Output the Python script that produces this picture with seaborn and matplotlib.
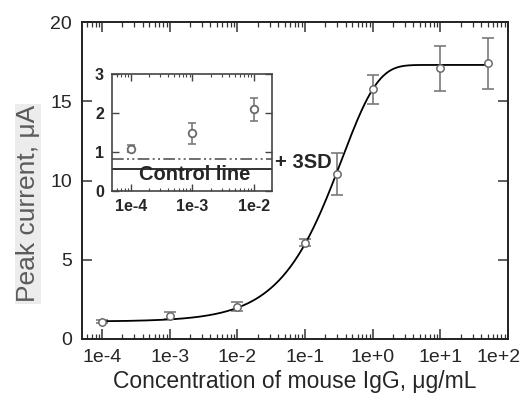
import numpy as np
import pandas as pd
import matplotlib
matplotlib.use('Agg')
import matplotlib.pyplot as plt
import matplotlib.transforms as mtransforms
import seaborn as sns

conc = [1e-4, 1e-3, 1e-2, 1e-1, 0.3, 1.0, 10.0, 50.0]
current = [1.09, 1.47, 2.04, 6.08, 10.4, 15.75, 17.08, 17.4]
sd = [0.10, 0.24, 0.27, 0.24, 1.33, 0.90, 1.40, 1.62]

# 인셋 (저농도 구간)
conc_low = [1e-4, 1e-3, 1e-2]
current_low = [1.08, 1.48, 2.10]
sd_low = [0.09, 0.27, 0.30]
control_line = 0.56
control_3sd = 0.81

# 피팅 곡선 파라미터
fit_top, fit_bottom, fit_c, fit_p = 17.3, 1.1, 0.35, 0.815

xticks = [1e-4, 1e-3, 1e-2, 1e-1, 1e0, 1e1, 1e2]
xtick_labels = ['1e-4', '1e-3', '1e-2', '1e-1', '1e+0', '1e+1', '1e+2']
inset_labels = ['1e-4', '1e-3', '1e-2']

sns.set_style('ticks')
plt.rcParams['font.family'] = ['Liberation Sans', 'DejaVu Sans']

fig = plt.figure(figsize=(5.28, 3.96), dpi=100)
ax = fig.add_axes([0.155, 0.144, 0.807, 0.800])

df = pd.DataFrame({'conc': conc, 'current': current, 'sd': sd})
xf = np.logspace(-4, np.log10(50), 300)
fit = pd.DataFrame({'x': xf, 'y': fit_top - (fit_top - fit_bottom) * np.exp(-(xf / fit_c) ** fit_p)})

sns.lineplot(data=fit, x='x', y='y', ax=ax, color='black', lw=1.3, zorder=3)
ax.errorbar(df['conc'], df['current'], yerr=df['sd'], fmt='none', ecolor='#7a7a7a',
            elinewidth=1.2, capsize=4, capthick=1.2, zorder=2)
sns.scatterplot(data=df, x='conc', y='current', ax=ax, marker='o', s=28,
                facecolor='white', edgecolor='#6a6a6a', linewidth=1.1, zorder=4)

ax.set_xscale('log')
ax.set_xlim(10 ** -4.3, 1e2)
ax.set_ylim(0, 20)
ax.set_xticks(xticks)
ax.set_xticklabels(xtick_labels)
ax.set_yticks([0, 5, 10, 15, 20])
ax.tick_params(which='major', direction='in', length=7, width=1.1, top=True, right=True,
               labelsize=14, pad=7, color='#333333')
ax.tick_params(which='minor', direction='in', length=3.5, width=0.9, top=True, right=False,
               left=False, color='#333333')
# 마지막 눈금 라벨이 잘리지 않도록 왼쪽으로 이동
last = ax.get_xticklabels()[-1]
last.set_transform(last.get_transform() + mtransforms.ScaledTranslation(-9 / 100, 0, fig.dpi_scale_trans))
for s in ax.spines.values():
    s.set_linewidth(1.4)
    s.set_color('#222222')
ax.set_xlabel('Concentration of mouse IgG, μg/mL', fontsize=16.5, labelpad=3)
ax.set_ylabel('Peak current, μA', fontsize=19, color='#5a5a5a',
              bbox=dict(facecolor='#ececec', edgecolor='none', pad=1))
ax.yaxis.set_label_coords(-0.098, 0.427)

# 인셋
ins = fig.add_axes([0.2127, 0.5177, 0.302, 0.2947])
dfl = pd.DataFrame({'conc': conc_low, 'current': current_low, 'sd': sd_low})
ins.errorbar(dfl['conc'], dfl['current'], yerr=dfl['sd'], fmt='none', ecolor='#7a7a7a',
             elinewidth=1.2, capsize=3, capthick=1.2, zorder=2)
sns.scatterplot(data=dfl, x='conc', y='current', ax=ins, marker='o', s=30,
                facecolor='white', edgecolor='#6a6a6a', linewidth=1.3, zorder=4)
ins.axhline(control_line, color='#333333', lw=1.4)
ins.axhline(control_3sd, color='#555555', lw=1.2, dashes=[7, 2, 1.2, 2, 1.2, 2])
ins.set_xscale('log')
ins.set_xlim(10 ** -4.3, 10 ** -1.71)
ins.set_ylim(0, 3)
ins.set_xticks(conc_low)
ins.set_xticklabels(inset_labels, fontweight='bold')
ins.set_yticks([0, 1, 2, 3])
ins.set_yticklabels(['0', '1', '2', '3'], fontweight='bold')
ins.set_xlabel('')
ins.set_ylabel('')
ins.tick_params(which='major', direction='in', length=5, width=1, top=True, right=True,
                labelsize=11.5, pad=6, color='#444444')
ins.tick_params(which='minor', direction='in', length=2.5, width=0.8, top=True,
                left=False, right=False, color='#444444')
for s in ins.spines.values():
    s.set_linewidth(1.2)
    s.set_color('#444444')
ins.text(195 / 528, 1 - 174 / 396, 'Control line', transform=fig.transFigure,
         ha='center', va='center', fontsize=14.5, fontweight='bold', zorder=5)
ax.text(275 / 528, 1 - 162 / 396, '+ 3SD', transform=fig.transFigure, ha='left', va='center',
        fontsize=14.5, fontweight='bold')

plt.savefig('out.png', dpi=100)
